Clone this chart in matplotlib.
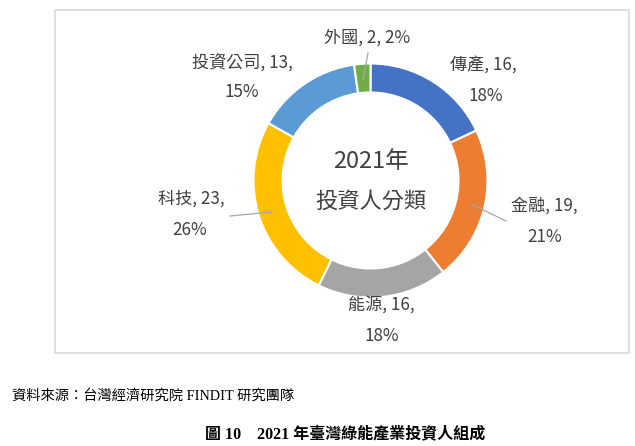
import matplotlib.pyplot as plt
import numpy as np
from matplotlib.patches import Rectangle

plt.rcParams['font.family'] = ['Noto Sans CJK TC', 'DejaVu Sans']

# data
categories = ['傳產', '金融', '能源', '科技', '投資公司', '外國']
values = [16, 19, 16, 23, 13, 2]
colors = ['#4472C4', '#ED7D31', '#A5A5A5', '#FFC000', '#5B9BD5', '#70AD47']

W, H = 635, 446
fig = plt.figure(figsize=(W / 100, H / 100), dpi=100)
ax = fig.add_axes([0, 0, 1, 1])

# chart frame
ax.add_patch(Rectangle((55, 10), 574, 343, fill=False, edgecolor='#d9d9d9', linewidth=1.2))

cx, cy, R = 370.5, 180.5, 117
# y axis inverted -> counterclock=True draws clockwise on screen; start at top = -90
wedges, _ = ax.pie(values, colors=colors, startangle=-90, counterclock=True,
                   center=(cx, cy), radius=R, frame=True,
                   wedgeprops=dict(width=29, edgecolor='white', linewidth=1.5))
ax.set_xlim(0, W)
ax.set_ylim(H, 0)  # pixel coords, y down
ax.set_aspect('equal')
ax.axis('off')

total = sum(values)
pct = [round(v / total * 100) for v in values]

txt_col = '#404040'
fs = 12.3
# label positions (line1, line2) in pixels
label_pos = {
    '傳產': ((483, 66), (486, 96)),
    '金融': ((544, 206), (545, 237)),
    '能源': ((381, 306), (382, 336)),
    '科技': ((191, 199), (190, 230)),
    '投資公司': ((242, 62), (242, 92)),
}
for name, v, p in zip(categories, values, pct):
    if name in label_pos:
        (x1, y1), (x2, y2) = label_pos[name]
        ax.text(x1, y1, f'{name}, {v},', ha='center', va='center', fontsize=fs, color=txt_col)
        ax.text(x2, y2, f'{p}%', ha='center', va='center', fontsize=fs, color=txt_col)
    else:
        ax.text(367, 38, f'{name}, {v}, {p}%', ha='center', va='center', fontsize=fs, color=txt_col)

# leader lines
lc = '#a6a6a6'
ax.plot([368, 363], [53, 80], color=lc, lw=0.9)
ax.plot([471, 506], [204, 221], color=lc, lw=0.9)
ax.plot([272, 230], [212, 216], color=lc, lw=0.9)

# center title
ax.text(cx, 162, '2021年', ha='center', va='center', fontsize=17, color=txt_col)
ax.text(cx, 201, '投資人分類', ha='center', va='center', fontsize=16, color=txt_col)

# source and caption
serif = ['Liberation Serif', 'Noto Sans CJK TC']
ax.text(12, 396, '資料來源：台灣經濟研究院 FINDIT 研究團隊', ha='left', va='center',
        fontsize=10.3, color='black', family=serif)
ax.text(345, 434, '圖 10　2021 年臺灣綠能產業投資人組成', ha='center', va='center',
        fontsize=11.5, color='black', fontweight='bold', family=serif)

fig.savefig('out.png', dpi=100)
